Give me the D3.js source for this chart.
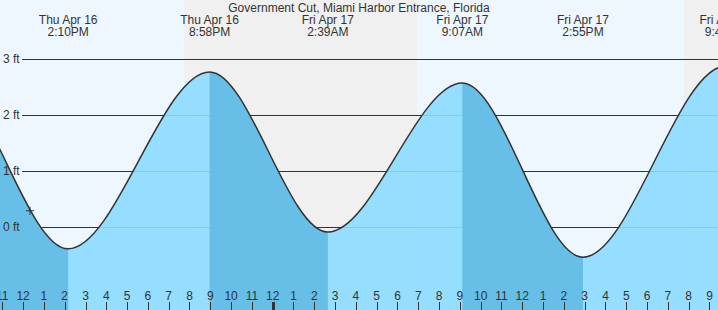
<!DOCTYPE html>
<html lang="en">
<head>
    <meta charset="utf-8">
    <script src="https://cdn.jsdelivr.net/npm/d3@7"></script>
    <style>
        body { margin: 0; background: #fff; }
        text { font-family: "Liberation Sans", Arial, sans-serif; fill: #333; }
    </style>
</head>
<body>
<div id="tide_chart"></div>

<script>
    // hours since Thu Apr 16 00:00 (first and last points lie off the chart)
    var tideTimes = [1.9, 8.2, 14.167, 20.967, 26.65, 33.117, 38.917, 45.77, 52.3];
    var tideHeights = [-0.2, 2.7, -0.39, 2.77, -0.09, 2.57, -0.54, 2.87, -0.15];
    var tideDays = ["Thu Apr 16", "Thu Apr 16", "Thu Apr 16", "Thu Apr 16", "Fri Apr 17", "Fri Apr 17", "Fri Apr 17", "Fri Apr 17", "Sat Apr 18"];
    var tideClock = ["1:54AM", "8:12AM", "2:10PM", "8:58PM", "2:39AM", "9:07AM", "2:55PM", "9:46PM", "4:18AM"];

    // night periods (sunset, sunrise)
    var sunsetTimes = [19.74, 43.77];
    var sunriseTimes = [30.94, 54.9];

    var feetTicks = [0, 1, 2, 3];
    var nowTime = 12.33, nowHeight = 0.29;
    var title = "Government Cut, Miami Harbor Entrance, Florida";

    var width = 718, height = 310;

    var svg = d3.select("#tide_chart")
        .append("svg")
        .attr("width", width)
        .attr("height", height);

    var x = d3.scaleLinear().domain([10.889, 45.41]).range([0, width]);
    var y = d3.scaleLinear().domain([0, 3]).range([227, 59]);

    var data = tideTimes.map(function (t, i) {
        return {t: t, v: tideHeights[i], day: tideDays[i], clock: tideClock[i]};
    });

    // day background + night shading
    svg.append("rect")
        .attr("width", width).attr("height", height)
        .style("fill", "#eef7ff");

    svg.selectAll(".night")
        .data(sunsetTimes)
        .enter()
        .append("rect")
        .attr("class", "night")
        .attr("x", function (d) { return x(d); })
        .attr("y", 0)
        .attr("width", function (d, i) { return x(sunriseTimes[i]) - x(d); })
        .attr("height", height)
        .style("fill", "#f0f0f0");

    // grid lines
    svg.selectAll(".grid")
        .data(feetTicks)
        .enter()
        .append("line")
        .attr("x1", 22).attr("x2", width)
        .attr("y1", function (d) { return Math.round(y(d)) + 0.5; })
        .attr("y2", function (d) { return Math.round(y(d)) + 0.5; })
        .style("stroke", "#333")
        .style("stroke-width", 1);

    var area = d3.area()
        .curve(d3.curveMonotoneX)
        .x(function (d) { return x(d.t); })
        .y0(height)
        .y1(function (d) { return y(d.v); });

    var line = d3.line()
        .curve(d3.curveMonotoneX)
        .x(function (d) { return x(d.t); })
        .y(function (d) { return y(d.v); });

    // rising tide fill
    svg.append("path")
        .datum(data)
        .attr("d", area)
        .style("fill", "#8cdaff")
        .style("opacity", 0.9);

    // falling tide fill, clipped between a high and the next low
    var falling = [];
    data.forEach(function (d, i) {
        if (i < data.length - 1 && data[i + 1].v < d.v) falling.push([d.t, data[i + 1].t]);
    });

    var defs = svg.append("defs");
    var clip = defs.append("clipPath").attr("id", "ebb");
    clip.selectAll("rect")
        .data(falling)
        .enter()
        .append("rect")
        .attr("x", function (d) { return x(d[0]); })
        .attr("y", 0)
        .attr("width", function (d) { return x(d[1]) - x(d[0]); })
        .attr("height", height);

    svg.append("path")
        .datum(data)
        .attr("d", area)
        .attr("clip-path", "url(#ebb)")
        .style("fill", "#62bae3")
        .style("opacity", 0.9);

    svg.append("path")
        .datum(data)
        .attr("d", line)
        .style("fill", "none")
        .style("stroke", "#333")
        .style("stroke-width", 1.5);

    svg.selectAll(".ylab")
        .data(feetTicks)
        .enter()
        .append("text")
        .attr("x", 3)
        .attr("y", function (d) { return y(d) + 4; })
        .style("font-size", "12px")
        .text(function (d) { return d + " ft"; });

    // current time marker
    var mx = x(nowTime), my = y(nowHeight);
    svg.append("path")
        .attr("d", "M" + (mx - 4) + "," + my + "H" + (mx + 4) + "M" + mx + "," + (my - 4) + "V" + (my + 4))
        .style("stroke", "#333")
        .style("stroke-width", 1);

    // hour ticks
    var hours = d3.range(Math.ceil(x.domain()[0]) - 1, Math.floor(x.domain()[1]) + 1);
    svg.selectAll(".tick")
        .data(hours)
        .enter()
        .append("line")
        .attr("x1", function (d) { return Math.round(x(d)) + 0.5; })
        .attr("x2", function (d) { return Math.round(x(d)) + 0.5; })
        .attr("y1", 302).attr("y2", height)
        .style("stroke", "#333")
        .style("stroke-width", function (d) { return d % 24 === 0 ? 3 : 1; });

    svg.selectAll(".hlab")
        .data(hours)
        .enter()
        .append("text")
        .attr("x", function (d) { return x(d); })
        .attr("y", 300)
        .attr("text-anchor", "middle")
        .style("font-size", "12px")
        .text(function (d) { return (d % 12) || 12; });

    // extreme labels (only those that reach into the chart)
    var shown = data.filter(function (d) { return x(d.t) > -30 && x(d.t) < width + 30; });
    var lab = svg.selectAll(".ext")
        .data(shown)
        .enter()
        .append("text")
        .attr("text-anchor", "middle")
        .style("font-size", "12px");
    lab.append("tspan")
        .attr("x", function (d) { return x(d.t); })
        .attr("y", 24)
        .text(function (d) { return d.day; });
    lab.append("tspan")
        .attr("x", function (d) { return x(d.t); })
        .attr("y", 36)
        .text(function (d) { return d.clock; });

    svg.append("text")
        .attr("x", width / 2)
        .attr("y", 12)
        .attr("text-anchor", "middle")
        .style("font-size", "12px")
        .text(title);
</script>
</body>
</html>
